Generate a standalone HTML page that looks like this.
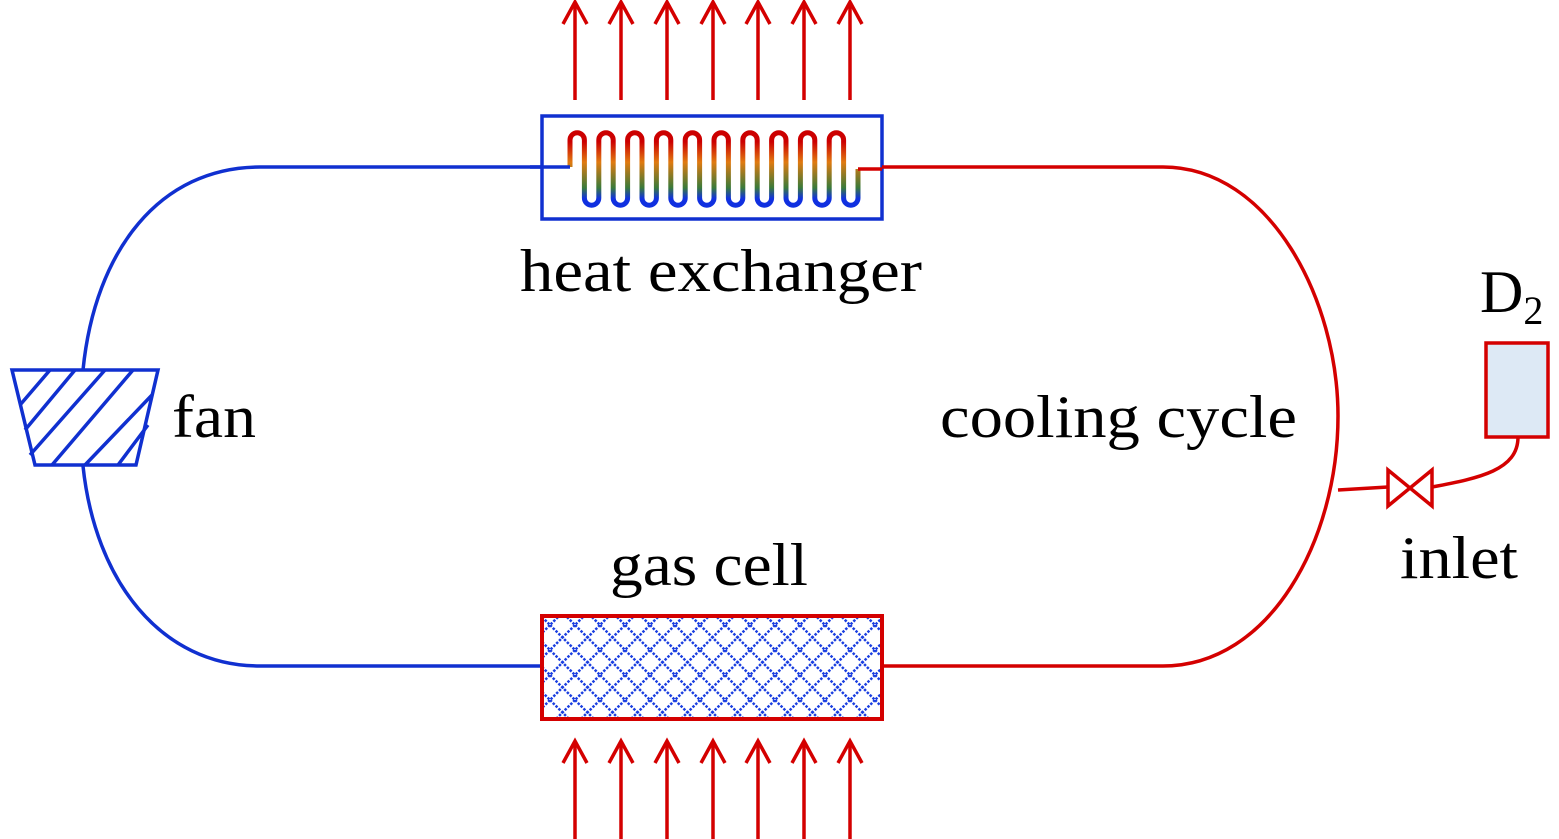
<!DOCTYPE html>
<html><head><style>body{margin:0;background:#fff}svg{display:block}text{font-family:"Liberation Serif",serif;fill:#000}</style></head><body>
<svg width="1559" height="839" viewBox="0 0 1559 839" xmlns="http://www.w3.org/2000/svg">
<defs>
<linearGradient id="g" gradientUnits="userSpaceOnUse" x1="0" y1="133" x2="0" y2="206">
<stop offset="0" stop-color="#c00"/><stop offset="0.12" stop-color="#c00"/><stop offset="0.4" stop-color="#e07a10"/><stop offset="0.75" stop-color="#3a7a3a"/><stop offset="0.9" stop-color="#1030e0"/><stop offset="1" stop-color="#1030e0"/>
</linearGradient>
<pattern id="h" patternUnits="userSpaceOnUse" width="25" height="25">
<path d="M0 0L25 25M25 0L0 25" stroke="#1a3ee0" stroke-width="2.5" stroke-dasharray="2.5 1.5"/>
</pattern>
</defs>
<g stroke="#d40000" stroke-width="3.5" fill="none">
<path d="M575 100V2M621 100V2M667 100V2M713 100V2M758 100V2M804 100V2M850 100V2"/>
<path d="M575 839V741M621 839V741M667 839V741M713 839V741M758 839V741M804 839V741M850 839V741"/>
<path d="M563 24L575 2L587 24M609 24L621 2L633 24M655 24L667 2L679 24M701 24L713 2L725 24M746 24L758 2L770 24M792 24L804 2L816 24M838 24L850 2L862 24"/>
<path d="M563 763L575 741L587 763M609 763L621 741L633 763M655 763L667 741L679 763M701 763L713 741L725 763M746 763L758 741L770 763M792 763L804 741L816 763M838 763L850 741L862 763"/>
</g>
<g fill="none" stroke="#1030d0" stroke-width="3.5">
<path d="M542 167H260C160 167 95 250 83 370"/>
<path d="M83 466C95 580 160 666 260 666H542"/>
<rect x="542" y="116" width="340" height="103"/>
<path d="M12 370H158L136 465H35Z"/>
<path d="M20 405L50 370M25 430L75 370M30 455L105 370M52 465L133 370M85 465L152 395M118 465L148 425"/>
</g>
<g fill="none" stroke="#d40000" stroke-width="3.5">
<path d="M882 167H1163C1270 167 1338 300 1338 416C1338 540 1270 666 1163 666H882"/>
<path d="M1338 490L1388 487"/>
<path d="M1432 487C1480 478 1518 470 1518 437"/>
<path d="M1388 470L1432 506V470L1388 506Z"/>
</g>
<rect x="1486" y="343" width="62" height="94" fill="#dde9f5" stroke="#d40000" stroke-width="3.5"/>
<rect x="542" y="616" width="340" height="103" fill="url(#h)" stroke="#d40000" stroke-width="4"/>
<path d="M570 167V140a7.2 7.2 0 0 1 14.4 0V198a7.2 7.2 0 0 0 14.4 0V140a7.2 7.2 0 0 1 14.4 0V198a7.2 7.2 0 0 0 14.4 0V140a7.2 7.2 0 0 1 14.4 0V198a7.2 7.2 0 0 0 14.4 0V140a7.2 7.2 0 0 1 14.4 0V198a7.2 7.2 0 0 0 14.4 0V140a7.2 7.2 0 0 1 14.4 0V198a7.2 7.2 0 0 0 14.4 0V140a7.2 7.2 0 0 1 14.4 0V198a7.2 7.2 0 0 0 14.4 0V140a7.2 7.2 0 0 1 14.4 0V198a7.2 7.2 0 0 0 14.4 0V140a7.2 7.2 0 0 1 14.4 0V198a7.2 7.2 0 0 0 14.4 0V140a7.2 7.2 0 0 1 14.4 0V198a7.2 7.2 0 0 0 14.4 0V140a7.2 7.2 0 0 1 14.4 0V198a7.2 7.2 0 0 0 14.4 0V169" fill="none" stroke="url(#g)" stroke-width="5"/>
<path d="M530 167H570" stroke="#1030d0" stroke-width="3.5"/>
<path d="M858 169H882" stroke="#d40000" stroke-width="3.5"/>
<g font-size="60">
<text x="520" y="291" textLength="402" lengthAdjust="spacingAndGlyphs">heat exchanger</text>
<text x="172" y="437" textLength="84" lengthAdjust="spacingAndGlyphs">fan</text>
<text x="940" y="437" textLength="357" lengthAdjust="spacingAndGlyphs">cooling cycle</text>
<text x="610" y="585" textLength="198" lengthAdjust="spacingAndGlyphs">gas cell</text>
<text x="1400" y="578" textLength="118" lengthAdjust="spacingAndGlyphs">inlet</text>
<text x="1480" y="312">D<tspan font-size="40" dy="12">2</tspan></text>
</g>
</svg>
</body></html>
